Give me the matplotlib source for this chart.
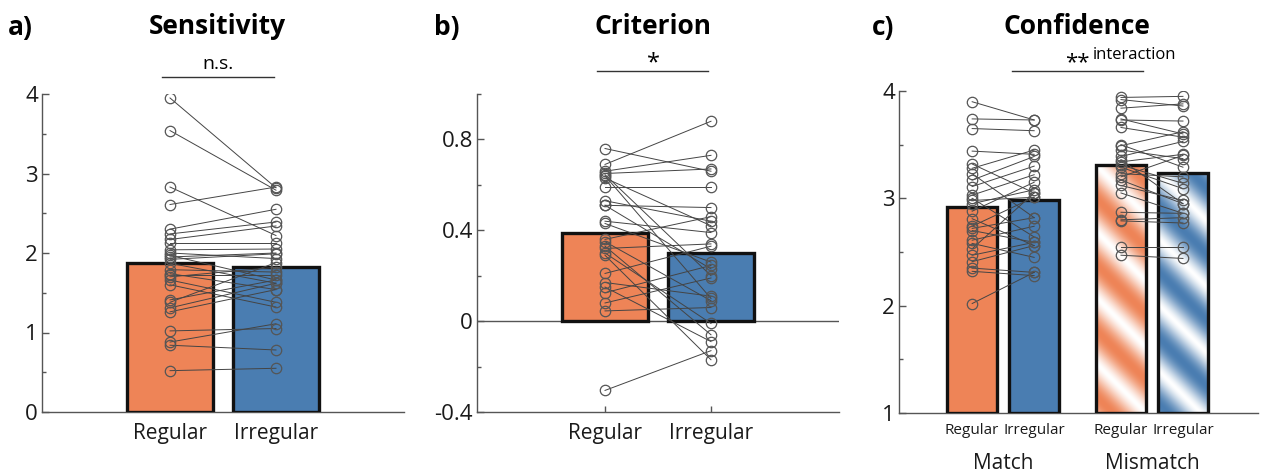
import numpy as np
import matplotlib.pyplot as plt
from matplotlib.lines import Line2D
from matplotlib.colors import to_rgb

plt.rcParams['font.family'] = ['Open Sans', 'DejaVu Sans']

orange = '#EE8457'
blue = '#4A7DB1'
dotcol = '#555555'

# a) sensitivity, per participant (regular, irregular)
sens_reg = [3.95, 3.54, 2.83, 2.61, 2.30, 2.24, 2.17, 2.12, 2.04, 2.00, 1.97, 1.92, 1.87, 1.79,
            1.74, 1.70, 1.66, 1.60, 1.41, 1.38, 1.31, 1.26, 1.02, 0.88, 0.84, 0.52, 1.72, 1.95]
sens_irr = [2.82, 2.79, 2.22, 2.83, 2.55, 2.39, 2.34, 2.12, 2.05, 1.93, 1.66, 1.99, 1.62, 1.76,
            1.54, 1.82, 1.38, 1.32, 1.66, 1.88, 1.62, 1.54, 1.05, 1.11, 0.78, 0.55, 1.72, 2.00]
sens_means = [1.87, 1.82]

# b) criterion
crit_reg = [0.76, 0.69, 0.66, 0.65, 0.645, 0.64, 0.63, 0.59, 0.53, 0.51, 0.51, 0.44, 0.43, 0.36,
            0.35, 0.33, 0.32, 0.30, 0.21, 0.17, 0.15, 0.125, 0.08, 0.045, 0.29, -0.305]
crit_irr = [0.66, 0.88, 0.73, 0.67, 0.20, 0.10, 0.42, 0.59, 0.44, 0.50, 0.23, 0.39, 0.26, 0.46,
            0.09, -0.06, 0.34, -0.01, 0.33, 0.11, -0.09, 0.245, 0.19, 0.06, -0.17, -0.13]
crit_means = [0.39, 0.30]

# c) confidence, match and mismatch
conf_match_reg = [3.90, 3.74, 3.65, 3.44, 3.32, 3.28, 3.23, 3.17, 3.11, 3.03, 3.00, 2.95, 2.88,
                  2.81, 2.74, 2.70, 2.61, 2.58, 2.53, 2.47, 2.41, 2.35, 2.32, 2.02, 2.98, 2.72]
conf_match_irr = [3.73, 3.73, 3.63, 3.41, 3.05, 3.45, 2.82, 3.39, 3.30, 3.22, 2.64, 3.08, 3.15,
                  2.56, 3.01, 2.59, 2.74, 2.45, 3.05, 2.59, 2.56, 2.31, 2.28, 2.31, 3.01, 2.82]
conf_mis_reg = [3.94, 3.92, 3.84, 3.73, 3.66, 3.49, 3.45, 3.39, 3.34, 3.29, 3.23, 3.17, 3.12,
                3.05, 2.87, 2.80, 2.79, 2.55, 2.47, 3.50, 3.31, 3.74, 3.36, 3.20]
conf_mis_irr = [3.95, 3.86, 3.88, 3.72, 3.57, 3.62, 3.37, 3.53, 3.41, 3.09, 3.20, 2.95, 2.98,
                2.86, 2.86, 2.82, 2.77, 2.55, 2.44, 3.29, 3.14, 3.60, 2.95, 3.40]
conf_means = [2.92, 2.98, 3.31, 3.24]
conf_pos = [1, 2, 3.4, 4.4]

cond_labels = ['Regular', 'Irregular']
group_labels = ['Match', 'Mismatch']

fig = plt.figure(figsize=(12.62, 4.72), dpi=100)
W, H = 1262, 472


def box(l, t, r, b):
    return [l / W, 1 - b / H, (r - l) / W, (b - t) / H]


def style(ax, lab_size):
    for s in ['top', 'right']:
        ax.spines[s].set_visible(False)
    for s in ['left', 'bottom']:
        ax.spines[s].set_color('#555555')
        ax.spines[s].set_linewidth(1.0)
    ax.tick_params(axis='y', which='major', direction='in', length=5, width=1, color='#555555',
                   labelsize=16, pad=3, labelcolor='#1a1a1a')
    ax.tick_params(axis='y', which='minor', direction='in', length=3, width=1, color='#555555')
    ax.tick_params(axis='x', direction='in', length=4, width=1, color='#555555',
                   labelsize=lab_size, pad=8, labelcolor='#1a1a1a')


def pairs(ax, x0, x1, ya, yb):
    for a, b in zip(ya, yb):
        ax.plot([x0, x1], [a, b], color='#444444', lw=0.7, zorder=4)
    ax.plot([x0] * len(ya), ya, 'o', ms=7.5, mfc='none', mec=dotcol, mew=0.9, zorder=5)
    ax.plot([x1] * len(yb), yb, 'o', ms=7.5, mfc='none', mec=dotcol, mew=0.9, zorder=5)


# ---- a) Sensitivity
axa = fig.add_axes(box(42, 94, 404, 412))
axa.bar([1, 2], sens_means, width=0.81, color=[orange, blue], edgecolor='#111111', lw=2.4, zorder=3)
pairs(axa, 1, 2, sens_reg, sens_irr)
axa.set_xlim(1.5 - 1.708, 1.5 + 1.708)
axa.set_ylim(0, 4)
axa.set_yticks([0, 1, 2, 3, 4])
axa.set_yticks(np.arange(0.5, 4, 1), minor=True)
axa.set_xticks([1, 2])
axa.set_xticklabels(cond_labels)
style(axa, 15)

# ---- b) Criterion
axb = fig.add_axes(box(477, 94, 839, 412))
axb.axhline(0, color='#555555', lw=1.0, zorder=2)
axb.bar([1, 2], crit_means, width=0.81, color=[orange, blue], edgecolor='#111111', lw=2.4, zorder=3)
pairs(axb, 1, 2, crit_reg, crit_irr)
axb.set_xlim(1.5 - 1.708, 1.5 + 1.708)
axb.set_ylim(-0.4, 1.0)
axb.set_yticks([-0.4, 0, 0.4, 0.8])
axb.set_yticklabels(['-0.4', '0', '0.4', '0.8'])
axb.set_yticks([-0.2, 0.2, 0.6, 1.0], minor=True)
axb.set_xticks([1, 2])
axb.set_xticklabels(cond_labels)
style(axb, 15)

# ---- c) Confidence
axc = fig.add_axes(box(899, 91, 1258, 413))
axc.set_xlim(1 - 1.18, 1 + 4.61)
axc.set_ylim(1, 4)
cols = [orange, blue, orange, blue]
for i, (p, m, c) in enumerate(zip(conf_pos, conf_means, cols)):
    if i < 2:
        axc.bar(p, m - 1, bottom=1, width=0.8, color=c, edgecolor='#111111', lw=2.4, zorder=3)
    else:
        bg = axc.bar(p, m - 1, bottom=1, width=0.8, color='white', edgecolor='none', zorder=2)[0]
        x0, x1 = p - 0.4, p + 0.4
        q0 = axc.transData.transform((x0, m))
        q1 = axc.transData.transform((x1, 1))
        nx, ny = int(abs(q1[0] - q0[0])) + 1, int(abs(q1[1] - q0[1])) + 1
        u, v = np.meshgrid(np.arange(nx), np.arange(ny))
        ph = ((u - v) / 66.0) % 1.0
        t = (0.5 - 0.5 * np.cos(2 * np.pi * ph)) ** 0.8
        rgb = np.array(to_rgb(c))
        img = (1 - t[..., None]) * 1.0 + t[..., None] * rgb
        im = axc.imshow(img, extent=(x0, x1, 1, m), aspect='auto', origin='upper',
                        interpolation='bilinear', zorder=2.5)
        im.set_clip_path(bg)
        axc.bar(p, m - 1, bottom=1, width=0.8, color='none', edgecolor='#111111', lw=2.4, zorder=3)
pairs(axc, conf_pos[0], conf_pos[1], conf_match_reg, conf_match_irr)
pairs(axc, conf_pos[2], conf_pos[3], conf_mis_reg, conf_mis_irr)
axc.set_xlim(1 - 1.18, 1 + 4.61)
axc.set_ylim(1, 4)
axc.set_yticks([1, 2, 3, 4])
axc.set_yticks(np.arange(1.5, 4, 1), minor=True)
axc.set_xticks(conf_pos)
axc.set_xticklabels(cond_labels * 2)
style(axc, 11)
axc.tick_params(axis='x', pad=7)
for gx, g in zip([1.5, 3.9], group_labels):
    axc.text(gx, -0.125, g, transform=axc.get_xaxis_transform(), ha='center', va='top',
             fontsize=15, color='#1a1a1a')

# ---- titles, panel letters, significance marks
def ft(x, y, s, **kw):
    fig.text(x / W, 1 - y / H, s, **kw)


for x, s in [(8, 'a)'), (434, 'b)'), (872, 'c)')]:
    ft(x, 27, s, fontsize=19, fontweight='bold', ha='left', va='center')
for x, s in [(217, 'Sensitivity'), (653, 'Criterion'), (1077, 'Confidence')]:
    ft(x, 27, s, fontsize=19, fontweight='bold', ha='center', va='center')

for (xa, xb, y) in [(162, 274, 77), (597, 708, 71), (1012, 1143, 71)]:
    fig.add_artist(Line2D([xa / W, xb / W], [1 - y / H, 1 - y / H], color='#333333', lw=1.0))
ft(218, 64, 'n.s.', fontsize=14, ha='center', va='center')
ft(653, 63, '*', fontsize=17, ha='center', va='center')
ft(1077, 63, '**', fontsize=16, ha='center', va='center')
ft(1093, 55, 'interaction', fontsize=12, ha='left', va='center')

fig.savefig('out.png', dpi=100)
